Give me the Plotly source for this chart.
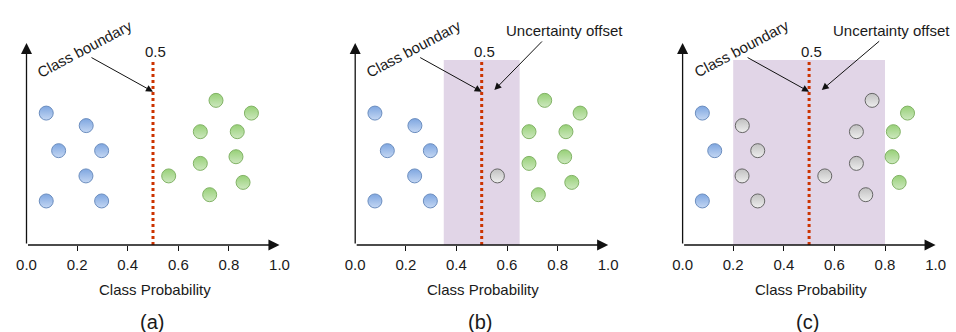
import plotly.graph_objects as go

# ---- data ----
point_x = [0.078, 0.236, 0.127, 0.297, 0.235, 0.078, 0.297,
           0.749, 0.889, 0.687, 0.833, 0.687, 0.828, 0.562, 0.856, 0.724]
point_y = [0.653, 0.591, 0.467, 0.467, 0.342, 0.218, 0.218,
           0.716, 0.653, 0.561, 0.561, 0.404, 0.437, 0.342, 0.310, 0.249]
panel_labels = ["(a)", "(b)", "(c)"]
band_low = [None, 0.35, 0.20]
band_high = [None, 0.65, 0.80]
boundary = 0.5
tick_vals = [0.0, 0.2, 0.4, 0.6, 0.8, 1.0]
tick_text = ["0.0", "0.2", "0.4", "0.6", "0.8", "1.0"]
minor_ticks = [0.2, 0.4, 0.6, 0.8]
offset_arrow_tail_x = [None, 0.744, 0.783]

# ---- style ----
W, H = 956, 332
FONT = "Liberation Sans, Arial, Helvetica, sans-serif"
TXT = "#1a1a1a"
styles = {
    "blue": dict(fill="#7EA6E0", grad="#C4D7F3", line="#6C8EBF"),
    "green": dict(fill="#97D077", grad="#CDE8BF", line="#82B366"),
    "gray": dict(fill="#C0C0C0", grad="#EEEEEE", line="#666666"),
}
starts = [1.2, 329.9, 657.3]
XR = [-0.1, 1.08]
PXU = 253.0
YR = [0, 245 / 202]

fig = go.Figure()
layout = dict(width=W, height=H, margin=dict(l=0, r=0, t=0, b=0),
              paper_bgcolor="white", plot_bgcolor="rgba(0,0,0,0)",
              showlegend=False, font=dict(family=FONT, color=TXT))
shapes, annos = [], []

for i in range(3):
    sfx = "" if i == 0 else str(i + 1)
    xa, ya = "x" + sfx, "y" + sfx
    width = (XR[1] - XR[0]) * PXU
    layout["xaxis" + sfx] = dict(
        domain=[starts[i] / W, (starts[i] + width) / W], range=XR,
        showgrid=False, zeroline=False, showline=False,
        tickmode="array", tickvals=tick_vals, ticktext=tick_text, ticks="",
        minor=dict(tickmode="array", tickvals=minor_ticks, ticks="outside",
                   ticklen=5, tickwidth=1, tickcolor="#111"),
        tickfont=dict(size=15, color=TXT, family=FONT),
        ticklabelstandoff=9, anchor=ya, fixedrange=True)
    layout["yaxis" + sfx] = dict(domain=[87 / H, 1], range=YR, visible=False,
                                 anchor=xa, fixedrange=True)

    lo, hi = band_low[i], band_high[i]
    if lo is not None:
        shapes.append(dict(type="rect", xref=xa, yref=ya, x0=lo, x1=hi, y0=0, y1=0.916,
                           fillcolor="#E1D5E7", line=dict(width=0), layer="below"))
    shapes.append(dict(type="line", xref=xa, yref=ya, x0=boundary, x1=boundary, y0=0, y1=0.916,
                       line=dict(color="#CC3300", width=3, dash="dot"), layer="below"))

    groups = {"blue": ([], []), "gray": ([], []), "green": ([], [])}
    for px_, py_ in zip(point_x, point_y):
        if lo is not None and lo <= px_ <= hi:
            k = "gray"
        elif px_ < boundary:
            k = "blue"
        else:
            k = "green"
        groups[k][0].append(px_)
        groups[k][1].append(py_)
    for k, (gx, gy) in groups.items():
        if not gx:
            continue
        st = styles[k]
        fig.add_trace(go.Scatter(
            x=gx, y=gy, mode="markers", xaxis=xa, yaxis=ya, hoverinfo="skip",
            marker=dict(size=14, color=st["fill"], line=dict(color=st["line"], width=1),
                        gradient=dict(type="vertical", color=st["grad"]))))

    ref = dict(xref=xa, yref=ya)
    aref = dict(axref=xa, ayref=ya)
    # axes arrows
    annos.append(dict(x=0, y=1.0, ax=0, ay=0, text="", showarrow=True, arrowhead=2,
                      arrowsize=1.7, arrowwidth=1.3, arrowcolor="#111", standoff=0, **ref, **aref))
    annos.append(dict(x=1.0, y=0, ax=0, ay=0, text="", showarrow=True, arrowhead=2,
                      arrowsize=1.7, arrowwidth=1.3, arrowcolor="#111", standoff=0, **ref, **aref))
    annos.append(dict(x=boundary + 0.01, y=0.957, text="0.5", showarrow=False,
                      font=dict(size=15, color=TXT), **ref))
    annos.append(dict(x=0.231, y=0.975, text="Class boundary", showarrow=False, textangle=-28,
                      font=dict(size=15, color=TXT), **ref))
    annos.append(dict(x=boundary, y=0.759, ax=0.251, ay=0.932, text="", showarrow=True,
                      arrowhead=2, arrowsize=1.4, arrowwidth=1, arrowcolor="#111",
                      standoff=0, **ref, **aref))
    if lo is not None:
        annos.append(dict(x=0.826, y=1.061, text="Uncertainty offset", showarrow=False,
                          font=dict(size=15, color=TXT), **ref))
        annos.append(dict(x=0.55, y=0.767, ax=offset_arrow_tail_x[i], ay=1.015, text="",
                          showarrow=True, arrowhead=2, arrowsize=1.4, arrowwidth=1,
                          arrowcolor="#111", standoff=0, **ref, **aref))
    annos.append(dict(x=0.506, y=0.129, xref=xa, yref="paper", yanchor="middle",
                      text="Class Probability", showarrow=False, font=dict(size=15, color=TXT)))
    annos.append(dict(x=0.495, y=0.031, xref=xa, yref="paper", yanchor="middle",
                      text=panel_labels[i], showarrow=False, font=dict(size=20, color=TXT)))

layout["shapes"] = shapes
layout["annotations"] = annos
fig.update_layout(**layout)
fig.write_html("out.html", config={"displayModeBar": False},
               post_script="document.body.style.margin='0';document.body.style.overflow='hidden';")
